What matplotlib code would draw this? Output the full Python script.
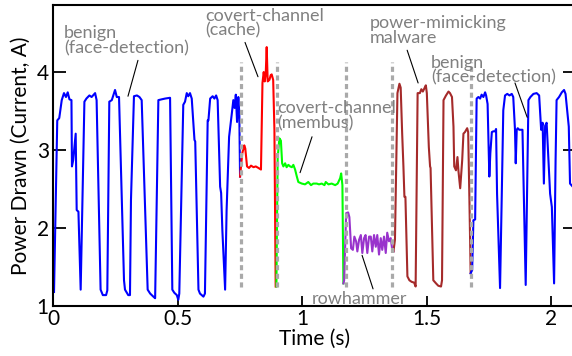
import matplotlib
matplotlib.use("Agg")
import matplotlib.pyplot as plt

plt.rcParams['font.family'] = ['Lato', 'DejaVu Sans']

# benign (face-detection), first run
benign1_t = [0.004, 0.017, 0.025, 0.035, 0.044, 0.052, 0.059, 0.066, 0.074, 0.076, 0.081, 0.091,
             0.095, 0.102, 0.111, 0.126, 0.134, 0.146, 0.155, 0.169, 0.175, 0.191, 0.200, 0.213,
             0.218, 0.226, 0.236, 0.249, 0.256, 0.265, 0.285, 0.289, 0.302, 0.309, 0.313, 0.325,
             0.337, 0.347, 0.356, 0.380, 0.390, 0.403, 0.410, 0.423, 0.436, 0.450, 0.470, 0.479,
             0.487, 0.497, 0.503, 0.507, 0.523, 0.530, 0.537, 0.543, 0.550, 0.557, 0.568, 0.571,
             0.584, 0.590, 0.604, 0.610, 0.621, 0.624, 0.631, 0.641, 0.648, 0.655, 0.661, 0.671,
             0.675, 0.680, 0.691, 0.697, 0.707, 0.718, 0.724, 0.729, 0.734, 0.739, 0.744, 0.748,
             0.751]
benign1_v = [1.18, 3.38, 3.41, 3.64, 3.73, 3.68, 3.74, 3.65, 3.64, 2.79, 2.87, 3.21,
             2.23, 2.21, 1.21, 3.62, 3.66, 3.70, 3.68, 3.73, 3.64, 1.21, 1.14, 1.14,
             1.20, 3.62, 3.64, 3.77, 3.68, 3.68, 1.33, 1.21, 1.14, 1.14, 2.36, 3.69,
             3.70, 3.68, 3.64, 1.21, 1.16, 1.12, 1.10, 3.64, 3.65, 3.66, 3.67, 1.21,
             1.17, 1.14, 1.08, 1.16, 3.58, 3.62, 3.73, 3.69, 3.73, 3.66, 3.13, 3.11,
             1.21, 1.16, 1.12, 1.16, 3.38, 3.38, 3.66, 3.69, 3.66, 3.70, 3.64, 2.53,
             2.45, 1.97, 1.21, 2.23, 3.17, 3.47, 3.64, 3.54, 3.71, 3.36, 3.68, 3.47,
             2.66]

# covert-channel (cache)
cache_t = [0.751, 0.760, 0.768, 0.772, 0.779, 0.787, 0.795, 0.805, 0.814, 0.825, 0.835, 0.841,
           0.846, 0.850, 0.854, 0.858, 0.862, 0.869, 0.874, 0.878, 0.884, 0.889, 0.894]
cache_v = [2.66, 2.96, 3.06, 3.02, 2.79, 2.77, 2.80, 2.78, 2.79, 2.77, 2.75, 3.86,
           4.00, 3.88, 3.97, 4.32, 3.88, 3.90, 3.96, 3.97, 3.90, 3.26, 1.25]

# covert-channel (membus)
membus_t = [0.897, 0.902, 0.909, 0.915, 0.920, 0.925, 0.932, 0.938, 0.945, 0.952, 0.959, 0.965,
            0.972, 0.979, 0.985, 0.999, 1.012, 1.025, 1.036, 1.045, 1.059, 1.068, 1.079, 1.090,
            1.095, 1.106, 1.119, 1.133, 1.143, 1.153, 1.157, 1.162, 1.166]
membus_v = [1.25, 2.90, 3.15, 3.12, 2.83, 2.79, 2.83, 2.78, 2.81, 2.79, 2.78, 2.81,
            2.75, 2.66, 2.59, 2.57, 2.56, 2.59, 2.55, 2.57, 2.57, 2.56, 2.57, 2.55,
            2.59, 2.56, 2.57, 2.55, 2.57, 2.64, 2.70, 2.55, 1.29]

# rowhammer
rowhammer_t = [1.166, 1.169, 1.177, 1.185, 1.190, 1.197, 1.204, 1.210, 1.217, 1.222, 1.229, 1.236,
               1.242, 1.249, 1.255, 1.262, 1.269, 1.276, 1.282, 1.289, 1.296, 1.302, 1.309, 1.316,
               1.322, 1.329, 1.336, 1.342, 1.349, 1.356, 1.363, 1.367]
rowhammer_v = [1.29, 1.33, 2.19, 2.20, 2.14, 1.74, 1.72, 1.89, 1.83, 1.70, 1.85, 1.91,
               1.68, 1.87, 1.91, 1.68, 1.89, 1.89, 1.70, 1.91, 1.76, 1.91, 1.66, 1.87,
               1.72, 1.89, 1.68, 1.94, 1.83, 1.87, 1.70, 1.70]

# power-mimicking malware
mimic_t = [1.367, 1.373, 1.383, 1.391, 1.396, 1.402, 1.407, 1.411, 1.415, 1.423, 1.431, 1.440,
           1.450, 1.456, 1.464, 1.473, 1.479, 1.485, 1.491, 1.497, 1.501, 1.509, 1.514, 1.516,
           1.527, 1.538, 1.547, 1.558, 1.562, 1.568, 1.578, 1.588, 1.594, 1.602, 1.608, 1.611,
           1.618, 1.624, 1.628, 1.635, 1.643, 1.648, 1.654, 1.663, 1.667, 1.672, 1.677]
mimic_v = [1.70, 1.85, 3.73, 3.85, 3.80, 3.21, 2.79, 2.40, 2.40, 1.38, 1.33, 1.31,
           1.30, 1.25, 3.73, 3.73, 3.78, 3.75, 3.79, 3.83, 3.73, 3.04, 2.79, 2.77,
           1.33, 1.29, 1.26, 1.25, 1.33, 3.64, 3.70, 3.75, 3.73, 3.68, 3.30, 2.79,
           2.74, 2.91, 2.73, 2.51, 2.87, 3.21, 3.23, 3.28, 3.23, 2.36, 1.42]

# benign (face-detection), second run
benign2_t = [1.677, 1.683, 1.688, 1.695, 1.701, 1.708, 1.715, 1.721, 1.728, 1.735, 1.739, 1.745,
             1.752, 1.756, 1.762, 1.768, 1.775, 1.779, 1.783, 1.795, 1.802, 1.808, 1.815, 1.824,
             1.833, 1.842, 1.848, 1.855, 1.858, 1.862, 1.866, 1.872, 1.885, 1.898, 1.909, 1.917,
             1.929, 1.942, 1.952, 1.960, 1.966, 1.971, 1.976, 1.982, 1.996, 2.003, 2.012, 2.018,
             2.022, 2.032, 2.043, 2.052, 2.058, 2.071, 2.076, 2.087]
benign2_v = [1.42, 1.46, 2.10, 2.11, 3.66, 3.68, 3.66, 3.71, 3.68, 3.74, 3.70, 3.59,
             2.66, 2.96, 3.23, 3.24, 3.24, 3.27, 2.44, 1.23, 2.44, 3.51, 3.70, 3.72,
             3.70, 3.72, 3.68, 3.26, 2.83, 3.26, 3.28, 3.26, 3.26, 1.27, 3.64, 3.68,
             3.72, 3.73, 3.70, 3.26, 3.35, 2.57, 3.31, 3.35, 2.44, 2.27, 1.29, 2.87,
             3.64, 3.68, 3.74, 3.77, 3.72, 3.30, 2.57, 2.53]

# workload boundaries (s)
boundaries = [0.753, 0.900, 1.175, 1.361, 1.679]

fig = plt.figure(figsize=(5.72, 3.56), dpi=100)
ax = fig.add_axes([0.0927, 0.1404, 0.9143, 0.8456])

ax.plot(benign1_t, benign1_v, color='#0000ff', lw=1.5)
ax.plot(cache_t, cache_v, color='#ff0000', lw=1.5)
ax.plot(membus_t, membus_v, color='#00ff00', lw=1.5)
ax.plot(rowhammer_t, rowhammer_v, color='#9933cc', lw=1.5)
ax.plot(mimic_t, mimic_v, color='#a52a2a', lw=1.5)
ax.plot(benign2_t, benign2_v, color='#0000ff', lw=1.5)

ax.vlines(boundaries, 1.24, 4.13, colors='#a9a9a9', lw=2.3,
          linestyles=[(0, (1.6, 1.1))], zorder=5)

ax.set_xlim(0, 2.1)
ax.set_ylim(1, 4.86)
ax.set_xticks([0, 0.5, 1, 1.5, 2])
ax.set_xticklabels(['0', '0.5', '1', '1.5', '2'])
ax.set_yticks([1, 2, 3, 4])

for s in ax.spines.values():
    s.set_linewidth(1.5)
ax.tick_params(axis='y', direction='in', length=9.5, width=1.3, labelsize=15, pad=3, right=True)
ax.tick_params(axis='x', direction='in', length=7, width=1.3, labelsize=15, pad=2)

ax.set_xlabel('Time (s)', fontsize=15, labelpad=0)
ax.set_ylabel('Power Drawn (Current, A)', fontsize=15, labelpad=4)

grey = '#808080'
line = dict(arrowstyle='-', color='black', lw=0.8, shrinkA=0, shrinkB=0)
notes = [
    ('benign\n(face-detection)', (0.044, 4.60), (0.341, 4.15), (0.301, 3.69)),
    ('covert-channel\n(cache)', (0.610, 4.82), (0.771, 4.38), (0.823, 3.94)),
    ('covert-channel\n(membus)', (0.900, 3.64), (1.040, 3.17), (0.992, 2.71)),
    ('rowhammer', (1.040, 1.19), (1.285, 1.22), (1.241, 1.65)),
    ('power-mimicking\nmalware', (1.273, 4.73), (1.422, 4.28), (1.466, 3.86)),
    ('benign\n(face-detection)', (1.518, 4.22), (1.855, 3.86), (1.904, 3.42)),
]
for txt, pos, p0, p1 in notes:
    ax.text(pos[0], pos[1], txt, color=grey, fontsize=13, ha='left', va='top',
            linespacing=0.9, zorder=6)
    ax.annotate('', xy=p1, xytext=p0, arrowprops=line)

fig.savefig('out.png', dpi=100)
